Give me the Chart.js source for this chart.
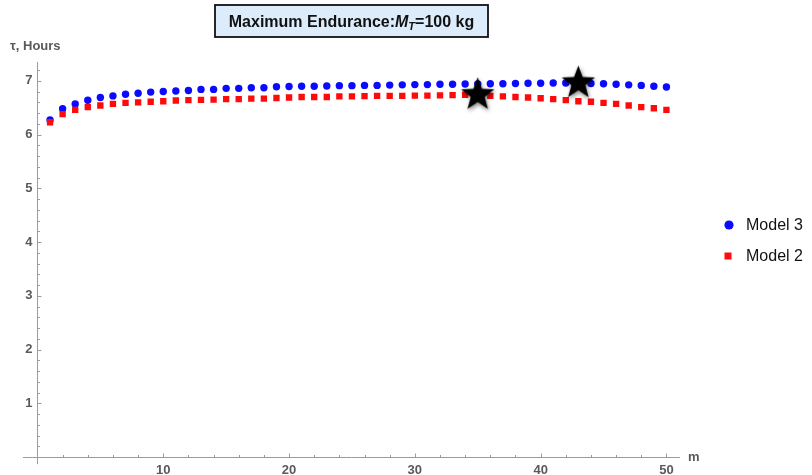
<!DOCTYPE html>
<html>
<head>
<meta charset="utf-8">
<script src="https://cdn.jsdelivr.net/npm/chart.js@4.4.1/dist/chart.umd.min.js"></script>
<style>
  html, body { margin: 0; padding: 0; background: #ffffff; }
  #wrap { width: 812px; height: 475px; position: relative; }
</style>
</head>
<body>
<div id="wrap"><canvas id="chart" width="812" height="475"></canvas></div>
<script>
// Number of members m (x) and endurance tau in hours (y)
const mValues = [1, 2, 3, 4, 5, 6, 7, 8, 9, 10,
                 11, 12, 13, 14, 15, 16, 17, 18, 19, 20,
                 21, 22, 23, 24, 25, 26, 27, 28, 29, 30,
                 31, 32, 33, 34, 35, 36, 37, 38, 39, 40,
                 41, 42, 43, 44, 45, 46, 47, 48, 49, 50];

const model3Hours = [6.27, 6.48, 6.57, 6.64, 6.69, 6.72, 6.75, 6.77, 6.79, 6.80,
                     6.81, 6.82, 6.84, 6.84, 6.86, 6.86, 6.87, 6.87, 6.89, 6.895,
                     6.90, 6.90, 6.905, 6.91, 6.91, 6.915, 6.915, 6.92, 6.925, 6.93,
                     6.93, 6.935, 6.935, 6.94, 6.94, 6.945, 6.945, 6.95, 6.955, 6.955,
                     6.96, 6.96, 6.96, 6.95, 6.945, 6.935, 6.925, 6.915, 6.90, 6.885];

const model2Hours = [6.23, 6.38, 6.46, 6.51, 6.54, 6.57, 6.59, 6.60, 6.61, 6.62,
                     6.635, 6.64, 6.645, 6.65, 6.66, 6.66, 6.67, 6.67, 6.68, 6.69,
                     6.70, 6.70, 6.70, 6.71, 6.71, 6.715, 6.72, 6.72, 6.72, 6.725,
                     6.725, 6.73, 6.735, 6.74, 6.74, 6.72, 6.71, 6.70, 6.69, 6.675,
                     6.66, 6.64, 6.62, 6.61, 6.59, 6.57, 6.54, 6.51, 6.49, 6.46];

// Optimal points (maximum endurance of each model)
const optimumM = [35, 43];
const optimumHours = [6.74, 6.96];

const seriesLabels = ['Model 3', 'Model 2'];
const xTickValues = [10, 20, 30, 40, 50];
const yTickValues = [1, 2, 3, 4, 5, 6, 7];

const FONT = '"Liberation Sans", Arial, Helvetica, sans-serif';
const AXIS_GREY = '#9c9c9c';
const LABEL_GREY = '#5a5a5a';

function toPoints(xs, ys) {
  return xs.map((x, i) => ({ x: x, y: ys[i] }));
}

// Five-pointed black star with a soft drop shadow, used as a point style
function makeStar(R) {
  const size = Math.ceil(R * 2 + 14);
  const c = document.createElement('canvas');
  c.width = size; c.height = size;
  const g = c.getContext('2d');
  const cx = size / 2, cy = size / 2;
  g.shadowColor = 'rgba(0,0,0,0.5)';
  g.shadowBlur = 4;
  g.shadowOffsetX = 1;
  g.shadowOffsetY = 2;
  g.beginPath();
  for (let i = 0; i < 10; i++) {
    const r = (i % 2 === 0) ? R : R * 0.42;
    const a = -Math.PI / 2 + i * Math.PI / 5;
    const px = cx + r * Math.cos(a), py = cy + r * Math.sin(a);
    if (i === 0) g.moveTo(px, py); else g.lineTo(px, py);
  }
  g.closePath();
  g.fillStyle = '#000000';
  g.fill();
  return c;
}
const starImage = makeStar(17.5);

// Axes lines through the origin plus inward tick marks
const axesPlugin = {
  id: 'originAxes',
  beforeDatasetsDraw(chart) {
    const { ctx, chartArea, scales: { x, y } } = chart;
    const x0 = Math.round(x.getPixelForValue(0)) + 0.5;
    const y0 = Math.round(y.getPixelForValue(0)) + 0.5;
    ctx.save();
    ctx.strokeStyle = AXIS_GREY;
    ctx.lineWidth = 1;
    ctx.beginPath();
    ctx.moveTo(x0, chartArea.top);
    ctx.lineTo(x0, chartArea.bottom);
    // x ticks every 2, longer at labelled values
    for (let v = 2; v <= 50; v += 2) {
      const px = Math.round(x.getPixelForValue(v)) + 0.5;
      const len = (v % 10 === 0) ? 4 : 2.5;
      ctx.moveTo(px, y0);
      ctx.lineTo(px, y0 - len);
    }
    // y ticks every 0.2, longer at integers
    for (let k = 1; k <= 36; k++) {
      const v = k / 5;
      const py = Math.round(y.getPixelForValue(v)) + 0.5;
      const len = (k % 5 === 0) ? 4 : 2.5;
      ctx.moveTo(x0, py);
      ctx.lineTo(x0 + len, py);
    }
    ctx.stroke();
    ctx.restore();
  }
};

// Framed title, axis captions and the legend
const decorPlugin = {
  id: 'decor',
  afterDraw(chart) {
    const { ctx, scales: { x, y } } = chart;
    ctx.save();

    // Title box
    const bx = 215, by = 5, bw = 273, bh = 32;
    ctx.fillStyle = '#dcecfb';
    ctx.fillRect(bx, by, bw, bh);
    ctx.strokeStyle = '#111111';
    ctx.lineWidth = 1.8;
    ctx.strokeRect(bx, by, bw, bh);

    const parts = [
      { t: 'Maximum Endurance:', f: 'bold 16px ' + FONT, dy: 0 },
      { t: 'M', f: 'italic bold 16px ' + FONT, dy: 0 },
      { t: 'T', f: 'italic bold 11px ' + FONT, dy: 3 },
      { t: '=100 kg', f: 'bold 16px ' + FONT, dy: 0 }
    ];
    let total = 0;
    parts.forEach(p => { ctx.font = p.f; p.w = ctx.measureText(p.t).width; total += p.w; });
    let tx = bx + (bw - total) / 2;
    const base = 27;
    ctx.fillStyle = '#111111';
    ctx.textBaseline = 'alphabetic';
    ctx.textAlign = 'left';
    parts.forEach(p => { ctx.font = p.f; ctx.fillText(p.t, tx, base + p.dy); tx += p.w; });

    // Axis captions
    ctx.fillStyle = LABEL_GREY;
    ctx.font = 'bold 13px ' + FONT;
    ctx.fillText('\u03C4, Hours', 10, 50);
    ctx.font = 'bold 13px ' + FONT;
    ctx.fillText('m', x.right + 9, y.getPixelForValue(0) + 4);

    // Legend
    const ds = chart.data.datasets;
    ctx.font = '16px ' + FONT;
    ctx.textBaseline = 'middle';
    ctx.fillStyle = ds[0].backgroundColor;
    ctx.beginPath();
    ctx.arc(729, 225, 4.6, 0, Math.PI * 2);
    ctx.fill();
    ctx.fillStyle = '#111111';
    ctx.fillText(ds[0].label, 746, 226);
    ctx.fillStyle = ds[1].backgroundColor;
    ctx.fillRect(724.5, 252.5, 7, 7);
    ctx.fillStyle = '#111111';
    ctx.fillText(ds[1].label, 746, 257);

    ctx.restore();
  }
};

new Chart(document.getElementById('chart'), {
  type: 'scatter',
  data: {
    datasets: [
      {
        label: seriesLabels[0],
        data: toPoints(mValues, model3Hours),
        backgroundColor: '#0a0aff',
        borderColor: '#0a0aff',
        borderWidth: 0,
        pointStyle: 'circle',
        pointRadius: 3.7,
        order: 3
      },
      {
        label: seriesLabels[1],
        data: toPoints(mValues, model2Hours),
        backgroundColor: '#ff0a0a',
        borderColor: '#ff0a0a',
        borderWidth: 0,
        pointStyle: 'rect',
        pointRadius: 4.5,
        order: 2
      },
      {
        label: 'Optimum',
        data: toPoints(optimumM, optimumHours),
        pointStyle: starImage,
        order: 1
      }
    ]
  },
  options: {
    responsive: false,
    devicePixelRatio: 1,
    animation: false,
    events: [],
    layout: { padding: { left: 23, right: 133, top: 62, bottom: 9 } },
    plugins: {
      legend: { display: false },
      title: { display: false },
      tooltip: { enabled: false }
    },
    scales: {
      x: {
        type: 'linear',
        min: -1.15,
        max: 51.0,
        position: { y: 0 },
        grid: { display: false, drawTicks: false },
        border: { display: true, color: AXIS_GREY, width: 1 },
        afterBuildTicks: (scale) => { scale.ticks = xTickValues.map(v => ({ value: v })); },
        ticks: {
          padding: 5,
          color: LABEL_GREY,
          font: { family: FONT, size: 13, weight: 'bold' }
        }
      },
      y: {
        type: 'linear',
        min: -0.13,
        max: 7.35,
        position: { x: -0.4 },
        grid: { display: false, drawTicks: false },
        border: { display: false },
        afterBuildTicks: (scale) => { scale.ticks = yTickValues.map(v => ({ value: v })); },
        ticks: {
          color: LABEL_GREY,
          font: { family: FONT, size: 13, weight: 'bold' }
        }
      }
    }
  },
  plugins: [axesPlugin, decorPlugin]
});
</script>
</body>
</html>
